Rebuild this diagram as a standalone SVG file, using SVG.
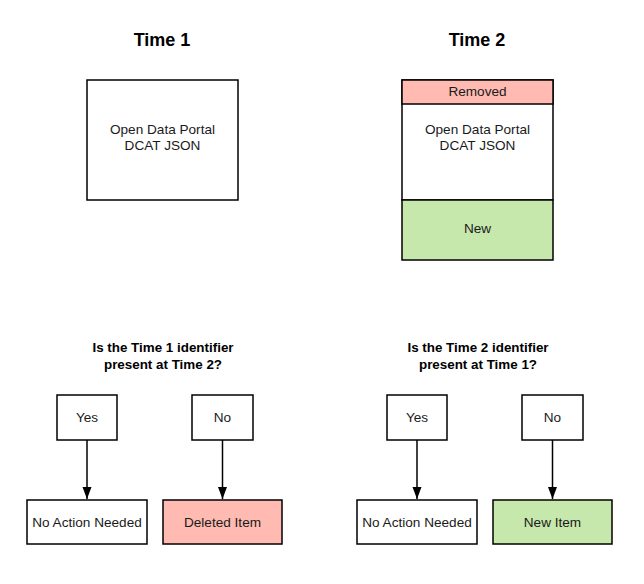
<svg xmlns="http://www.w3.org/2000/svg" width="644" height="584" viewBox="0 0 644 584">
<defs>
<style>
.box{fill:#fff;stroke:#000;stroke-width:1.5}
.red{fill:#FFBBB1;stroke:#000;stroke-width:1.5}
.green{fill:#C7E8AC;stroke:#000;stroke-width:1.5}
.t{font-family:"Liberation Sans",Arial,sans-serif;font-size:13.6px;fill:#1a1a1a;text-anchor:middle}
.title{font-family:"Liberation Sans",Arial,sans-serif;font-size:18px;font-weight:bold;fill:#000;text-anchor:middle}
.q{font-family:"Liberation Sans",Arial,sans-serif;font-size:13.4px;font-weight:bold;fill:#000;text-anchor:middle}
.conn{stroke:#000;stroke-width:1.5;fill:none}
</style>
<marker id="arr" markerWidth="12" markerHeight="10" viewBox="0 0 12 10" refX="12" refY="5" orient="auto" markerUnits="userSpaceOnUse">
<path d="M0,0.5 L12,5 L0,9.5 z" fill="#000"/>
</marker>
</defs>
<rect width="644" height="584" fill="#fff"/>
<text class="title" x="162" y="46">Time 1</text>
<text class="title" x="477" y="46">Time 2</text>
<g id="time1">
<rect class="box" x="87" y="80" width="151" height="120"/>
<text class="t" x="162.5" y="134">Open Data Portal</text>
<text class="t" x="162.5" y="150">DCAT JSON</text>
</g>
<g id="time2">
<rect class="box" x="402" y="80" width="151" height="120"/>
<rect class="red" x="402" y="80" width="151" height="24"/>
<text class="t" x="477.5" y="96">Removed</text>
<text class="t" x="477.5" y="134">Open Data Portal</text>
<text class="t" x="477.5" y="150">DCAT JSON</text>
<rect class="green" x="402" y="200" width="151" height="60"/>
<text class="t" x="477.5" y="233">New</text>
</g>
<g id="q1">
<text class="q" x="163" y="352">Is the Time 1 identifier</text>
<text class="q" x="163" y="369">present at Time 2?</text>
</g>
<g id="q2">
<text class="q" x="478" y="352">Is the Time 2 identifier</text>
<text class="q" x="478" y="369">present at Time 1?</text>
</g>
<g id="yes1"><rect class="box" x="57" y="395" width="60" height="45"/><text class="t" x="87" y="422">Yes</text></g>
<g id="no1"><rect class="box" x="192" y="395" width="61" height="45"/><text class="t" x="222.5" y="422">No</text></g>
<g id="noaction1"><rect class="box" x="27" y="500" width="120" height="44"/><text class="t" x="87" y="527">No Action Needed</text></g>
<g id="deleted"><rect class="red" x="163" y="500" width="119" height="44"/><text class="t" x="222.5" y="527">Deleted Item</text></g>
<g id="yes2"><rect class="box" x="387" y="395" width="60" height="45"/><text class="t" x="417" y="422">Yes</text></g>
<g id="no2"><rect class="box" x="522" y="395" width="61" height="45"/><text class="t" x="552.5" y="422">No</text></g>
<g id="noaction2"><rect class="box" x="357" y="500" width="120" height="44"/><text class="t" x="417" y="527">No Action Needed</text></g>
<g id="newitem"><rect class="green" x="493" y="500" width="119" height="44"/><text class="t" x="552.5" y="527">New Item</text></g>
<g id="connectors">
<line class="conn" x1="87" y1="440" x2="87" y2="499" marker-end="url(#arr)"/>
<line class="conn" x1="222.5" y1="440" x2="222.5" y2="499" marker-end="url(#arr)"/>
<line class="conn" x1="417" y1="440" x2="417" y2="499" marker-end="url(#arr)"/>
<line class="conn" x1="552.5" y1="440" x2="552.5" y2="499" marker-end="url(#arr)"/>
</g>
</svg>
